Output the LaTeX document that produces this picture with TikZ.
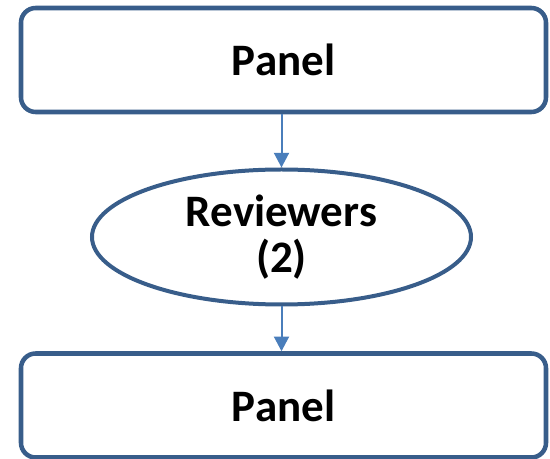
\documentclass[tikz,border=0pt]{standalone}
\usepackage{fontspec}
\setmainfont{Carlito}
\usetikzlibrary{arrows.meta,shapes.geometric}
\definecolor{boxblue}{HTML}{385D8A}
\definecolor{arrowblue}{HTML}{4A7EBB}
\tikzset{
  panelbox/.style={draw=boxblue, line width=3.4pt, rounded corners=11pt,
    minimum width=393.75pt, minimum height=78pt, inner sep=0pt,
    font=\bfseries\fontsize{33.75}{34}\selectfont},
  revellipse/.style={ellipse, draw=boxblue, line width=3pt,
    minimum width=284.25pt, minimum height=101.25pt, inner sep=0pt,
    align=center, font=\bfseries\fontsize{33.75}{34}\selectfont},
  flow/.style={draw=arrowblue, line width=1.5pt,
    -{Triangle[width=11.25pt,length=11pt]}}
}
\begin{document}
\begin{tikzpicture}[x=0.75pt,y=0.75pt,yscale=-1,xscale=1]
\useasboundingbox (0,0) rectangle (550,459);
\draw (283.5,60) node [panelbox] (toppanel) {Panel};
\draw (281.5,237) node [revellipse] (reviewers) {Reviewers\\(2)};
\draw (283.5,405.5) node [panelbox] (botpanel) {Panel};
\draw[flow] (reviewers.north |- toppanel.south) -- (reviewers.north) ;
\draw[flow] (reviewers.south) -- (reviewers.south |- botpanel.north) ;
\end{tikzpicture}
\end{document}
